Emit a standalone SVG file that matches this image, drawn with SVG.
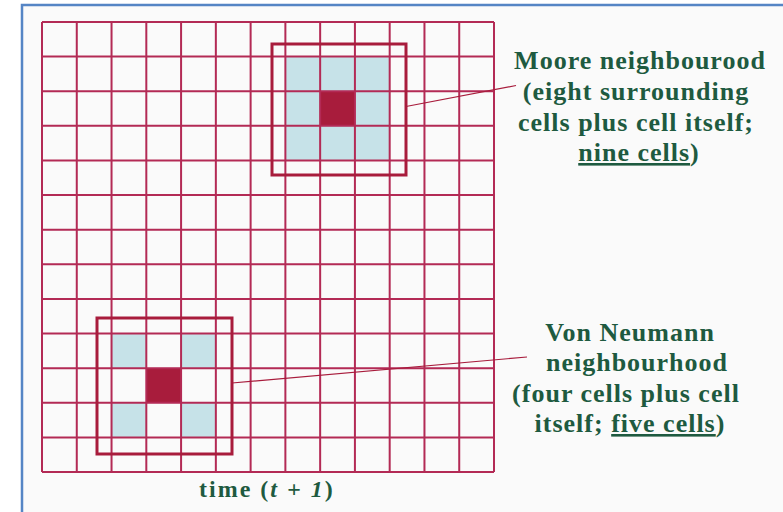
<svg xmlns="http://www.w3.org/2000/svg" width="783" height="512" viewBox="0 0 783 512">
<style>
.frame{fill:#fafafa;stroke:#5585c5;stroke-width:2.5}
.grid{fill:none;stroke:#b32a55;stroke-width:2}
.blue{fill:#c6e2e8}
.red{fill:#a81c3c}
.box{fill:none;stroke:#a81c3c;stroke-width:3}
.conn{fill:none;stroke:#a81c3c;stroke-width:1.2}
.lbl{font-family:"Liberation Serif","Times New Roman",serif;font-weight:bold;font-size:26px;fill:#1e5a40;text-anchor:middle;letter-spacing:1px}
.time{font-family:"Liberation Serif","Times New Roman",serif;font-weight:bold;font-size:24px;fill:#1e5a40;letter-spacing:2px}
</style>
<rect x="0" y="0" width="783" height="512" fill="#ffffff"/>
<rect class="frame" x="22" y="5" width="800" height="530"/>
<g id="cells">
<rect class="blue" x="285.38" y="56.62" width="104.31" height="103.84"/>
<rect class="red" x="320.15" y="91.23" width="34.77" height="34.62"/>
<rect class="blue" x="111.54" y="333.54" width="34.77" height="34.62"/>
<rect class="blue" x="181.08" y="333.54" width="34.77" height="34.62"/>
<rect class="blue" x="111.54" y="402.77" width="34.77" height="34.62"/>
<rect class="blue" x="181.08" y="402.77" width="34.77" height="34.62"/>
<rect class="red" x="146.31" y="368.15" width="34.77" height="34.62"/>
</g>
<g id="grid">
<path class="grid" d="M42 22V472M76.77 22V472M111.54 22V472M146.31 22V472M181.08 22V472M215.85 22V472M250.62 22V472M285.38 22V472M320.15 22V472M354.92 22V472M389.69 22V472M424.46 22V472M459.23 22V472M494 22V472M42 22H494M42 56.62H494M42 91.23H494M42 125.85H494M42 160.46H494M42 195.08H494M42 229.69H494M42 264.31H494M42 298.92H494M42 333.54H494M42 368.15H494M42 402.77H494M42 437.38H494M42 472H494"/>
</g>
<g id="moore">
<rect class="box" x="272" y="44" width="134" height="131"/>
<text class="lbl" x="640" y="69">Moore neighbourood</text>
<text class="lbl" x="636" y="100">(eight surrounding</text>
<text class="lbl" x="636" y="131">cells plus cell itself;</text>
<text class="lbl" x="639" y="161"><tspan text-decoration="underline">nine cells</tspan>)</text>
</g>
<g id="vonneumann">
<rect class="box" x="97" y="318" width="135" height="136"/>
<text class="lbl" x="630" y="341">Von Neumann</text>
<text class="lbl" x="637" y="371">neighbourhood</text>
<text class="lbl" x="626" y="402">(four cells plus cell</text>
<text class="lbl" x="630" y="432">itself; <tspan text-decoration="underline">five cells</tspan>)</text>
</g>
<g id="time">
<text class="time" x="199" y="497">time (<tspan font-style="italic">t</tspan> <tspan font-style="italic">+ 1</tspan>)</text>
</g>
<g id="connectors">
<line class="conn" x1="406" y1="106.5" x2="516" y2="85.5"/>
<line class="conn" x1="232" y1="383" x2="527" y2="357"/>
</g>
</svg>
